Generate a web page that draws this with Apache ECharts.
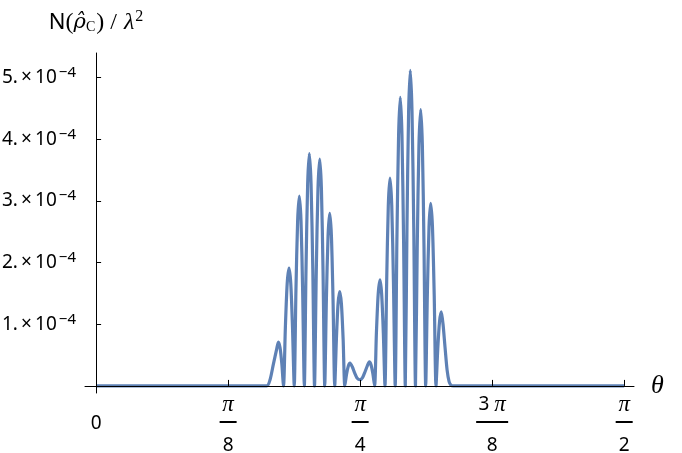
<!DOCTYPE html>
<html>
<head>
<meta charset="utf-8">
<script src="https://cdn.jsdelivr.net/npm/echarts@6/dist/echarts.min.js"></script>
<style>
  html, body { margin: 0; padding: 0; background: #fff; }
  #chart { width: 682px; height: 453px; }
</style>
</head>
<body>
<div id="chart"></div>
<script>
// theta in rad, value in units of 1e-4
var theta = [
  0, 0.5076, 0.5174, 0.5272, 0.5373, 0.5421, 0.5472, 0.5524,
  0.5575, 0.5630, 0.5684, 0.5739, 0.5791, 0.5842,
  0.5894, 0.5944, 0.5995, 0.6045, 0.6095, 0.6144,
  0.6194, 0.6244, 0.6293, 0.6343, 0.6394, 0.6446,
  0.6497, 0.6549, 0.6600, 0.6652, 0.6702, 0.6751,
  0.6801, 0.6850, 0.6900, 0.6949, 0.6999, 0.7048,
  0.7098, 0.7148, 0.7197, 0.7247, 0.7297, 0.7348,
  0.7398, 0.7450, 0.7501, 0.7553, 0.7620, 0.7690, 0.7760, 0.7850,
  0.7930, 0.8000, 0.8070, 0.8127, 0.8179, 0.8232,
  0.8284, 0.8338, 0.8391, 0.8445, 0.8494, 0.8544,
  0.8593, 0.8643, 0.8692, 0.8742, 0.8794, 0.8845,
  0.8897, 0.8947, 0.8998, 0.9048, 0.9098, 0.9147,
  0.9197, 0.9247, 0.9296, 0.9346, 0.9397, 0.9449,
  0.9500, 0.9552, 0.9603, 0.9655, 0.9705, 0.9754,
  0.9804, 0.9853, 0.9903, 0.9952, 1.0005, 1.0057,
  1.0110, 1.0163, 1.0215, 1.0268, 1.0320, 1.0380, 1.0440, 1.0500, 1.0560,
  1.0625, 1.5708
];
var value = [
  0, 0, 0.10, 0.35, 0.60, 0.71, 0.62, 0.36,
  0, 0.95, 1.66, 1.91, 1.66, 0.95,
  0, 1.54, 2.68, 3.08, 2.68, 1.54,
  0, 1.89, 3.28, 3.77, 3.28, 1.89,
  0, 1.84, 3.20, 3.68, 3.20, 1.84,
  0, 1.40, 2.44, 2.80, 2.44, 1.40,
  0, 0.76, 1.33, 1.53, 1.33, 0.76,
  0, 0.19, 0.32, 0.37, 0.31, 0.21, 0.13, 0.10,
  0.14, 0.23, 0.33, 0.39, 0.34, 0.20,
  0, 0.86, 1.49, 1.72, 1.49, 0.86,
  0, 1.68, 2.93, 3.37, 2.93, 1.68,
  0, 2.34, 4.07, 4.68, 4.07, 2.34,
  0, 2.56, 4.45, 5.12, 4.45, 2.56,
  0, 2.24, 3.90, 4.48, 3.90, 2.24,
  0, 1.48, 2.58, 2.96, 2.58, 1.48,
  0, 0.60, 1.04, 1.20, 1.00, 0.62, 0.26, 0.07, 0.01,
  0, 0
];

var xTickValues = [0, Math.PI / 8, Math.PI / 4, 3 * Math.PI / 8, Math.PI / 2];
var xTickNum = ['', 'π', 'π', '3 π', 'π'];
var xTickDen = ['0', '8', '4', '8', '2'];
var yTickValues = [1, 2, 3, 4, 5];

var data = theta.map(function (t, i) { return [t, value[i]] });

var chart = echarts.init(document.getElementById('chart'));
var sans = 'Noto Sans';
var serif = 'Liberation Serif';

chart.setOption({
  animation: false,
  grid: { left: 85, right: 48, top: 53, bottom: 60, outerBoundsMode: 'none', containLabel: false },
  xAxis: {
    type: 'value',
    min: -0.033,
    max: 1.600,
    z: 3,
    name: 'θ',
    nameLocation: 'end',
    nameGap: 17,
    nameTextStyle: { fontFamily: serif, fontStyle: 'italic', fontSize: 26, color: '#000', verticalAlign: 'middle' },
    axisLine: { onZero: true, lineStyle: { color: '#000', width: 1 } },
    axisTick: { inside: true, length: 6, lineStyle: { color: '#000' }, customValues: xTickValues.slice(1) },
    splitLine: { show: false },
    axisLabel: {
      customValues: xTickValues,
      margin: 3,
      color: '#000',
      formatter: function (v) {
        var i = 0;
        for (var k = 0; k < xTickValues.length; k++) {
          if (Math.abs(xTickValues[k] - v) < 1e-6) i = k;
        }
        if (i === 0) return '{z|' + xTickDen[0] + '}';
        var bar = xTickNum[i].length > 1 ? 'bw' : 'b';
        var num = xTickNum[i].length > 1 ? '{k|3 }{n|π}' : '{n|π}';
        return num + '\n{' + bar + '|}\n{d|' + xTickDen[i] + '}';
      },
      rich: {
        z: { fontFamily: sans, fontSize: 19, lineHeight: 56, color: '#000' },
        k: { fontFamily: sans, fontSize: 19, lineHeight: 18, color: '#000' },
        n: { fontFamily: serif, fontStyle: 'italic', fontSize: 23, lineHeight: 18, color: '#000' },
        b: { width: 17, height: 2, lineHeight: 16, backgroundColor: '#000' },
        bw: { width: 32, height: 2, lineHeight: 16, backgroundColor: '#000' },
        d: { fontFamily: sans, fontSize: 19, lineHeight: 32, color: '#000' }
      }
    }
  },
  yAxis: {
    type: 'value',
    min: -0.115,
    max: 5.40,
    z: 3,
    name: '{s|N}{p|(}{r|ρ̂}{c|C}{p|)}{q|/}{l|λ}{t|2}',
    nameLocation: 'end',
    nameGap: 16,
    nameTextStyle: {
      rich: {
        s: { fontFamily: sans, fontSize: 22, color: '#000' },
        p: { fontFamily: serif, fontSize: 24, color: '#000' },
        q: { fontFamily: serif, fontSize: 24, color: '#000', padding: [0, 7, 0, 6] },
        r: { fontFamily: 'DejaVu Serif', fontStyle: 'italic', fontSize: 21, color: '#000' },
        c: { fontFamily: serif, fontSize: 14, color: '#000', padding: [9, 1, 0, 0] },
        l: { fontFamily: serif, fontStyle: 'italic', fontSize: 24, color: '#000' },
        t: { fontFamily: serif, fontSize: 16, color: '#000', padding: [0, 0, 12, 1] }
      }
    },
    axisLine: { onZero: true, lineStyle: { color: '#000', width: 1 } },
    axisTick: { inside: true, length: 5, lineStyle: { color: '#000' }, customValues: yTickValues },
    splitLine: { show: false },
    axisLabel: {
      customValues: yTickValues,
      margin: 9,
      formatter: function (v) { return '{a|' + v + '.\u2009×\u200910}{e|−4}'; },
      rich: {
        a: { fontFamily: sans, fontSize: 19, color: '#000' },
        e: { fontFamily: sans, fontSize: 15, color: '#000', padding: [0, 0, 10, 2] }
      }
    }
  },
  series: [{
    type: 'line',
    data: data,
    showSymbol: false,
    smooth: 0.25,
    z: 2,
    lineStyle: { color: '#5E81B5', width: 3.2, join: 'round' }
  }]
});
</script>
</body>
</html>
